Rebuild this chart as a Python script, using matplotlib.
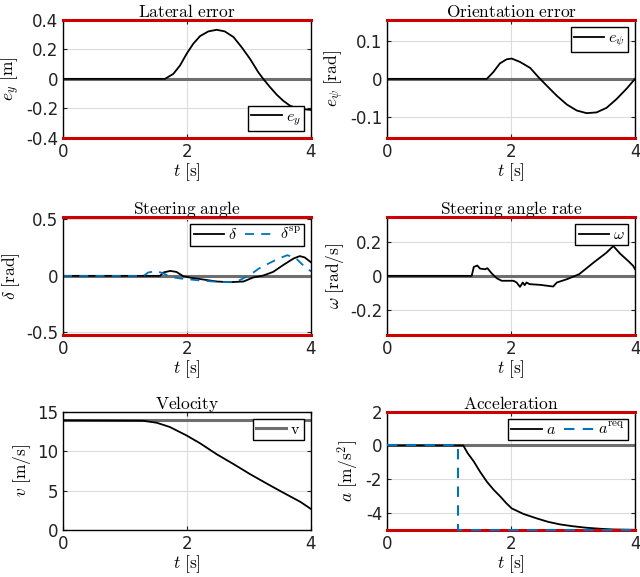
import numpy as np
import matplotlib
matplotlib.use('Agg')
import matplotlib.pyplot as plt

plt.rcParams['mathtext.fontset'] = 'cm'
plt.rcParams['font.family'] = ['DejaVu Sans']

RED = '#cc0000'
GRAY = '#6e6e6e'
BLUE = '#0072bd'

# lateral error
t_ey = [0.0, 1.40, 1.645, 1.78, 1.887, 1.995, 2.10, 2.21, 2.344, 2.48, 2.61, 2.75, 2.88, 3.016,
        3.15, 3.23, 3.34, 3.45, 3.55, 3.66, 3.77, 3.88, 4.0]
ey = [0.0, 0.0, 0.0, 0.034, 0.09, 0.17, 0.237, 0.289, 0.321, 0.332, 0.321, 0.283, 0.215, 0.136,
      0.045, 0.0, -0.056, -0.108, -0.147, -0.181, -0.199, -0.205, -0.21]
ey_lim = 0.4

# orientation error
t_epsi = [0.0, 1.61, 1.715, 1.82, 1.93, 2.01, 2.145, 2.31, 2.44, 2.576, 2.74, 2.90, 3.06, 3.22,
          3.38, 3.54, 3.70, 3.87, 4.0]
epsi = [0.0, 0.0, 0.018, 0.041, 0.052, 0.054, 0.045, 0.029, 0.005, -0.018, -0.045, -0.068, -0.084,
        -0.091, -0.089, -0.077, -0.054, -0.025, 0.0]
epsi_lim = 0.157

# steering angle
t_delta = [0.0, 1.565, 1.62, 1.73, 1.83, 1.94, 2.075, 2.26, 2.48, 2.69, 2.91, 3.07, 3.23, 3.39,
           3.55, 3.72, 3.82, 3.90, 4.0]
delta = [0.0, 0.0, 0.03, 0.044, 0.035, -0.003, -0.018, -0.032, -0.05, -0.056, -0.05, -0.014, 0.003,
         0.035, 0.095, 0.154, 0.175, 0.163, 0.12]
t_delta_sp = [0.0, 1.30, 1.375, 1.51, 1.62, 1.73, 1.89, 2.16, 2.42, 2.69, 2.85, 3.01, 3.16, 3.32,
              3.48, 3.62, 3.76, 3.90, 4.0]
delta_sp = [0.0, 0.0, 0.03, 0.042, 0.022, -0.009, -0.023, -0.038, -0.05, -0.056, -0.038, 0.006,
            0.065, 0.11, 0.154, 0.183, 0.154, 0.08, 0.04]
delta_lim = 0.5236

# steering angle rate
t_omega = [0.0, 1.366, 1.40, 1.457, 1.50, 1.58, 1.62, 1.69, 1.77, 1.85, 2.04, 2.09, 2.145, 2.19,
           2.22, 2.25, 2.30, 2.47, 2.68, 2.74, 2.90, 3.10, 3.33, 3.54, 3.65, 3.76, 3.89, 3.97, 4.0]
omega = [0.0, 0.0, 0.053, 0.061, 0.043, 0.039, 0.045, 0.014, -0.014, -0.029, -0.029, -0.039, -0.065,
         -0.039, -0.055, -0.039, -0.049, -0.053, -0.063, -0.039, -0.02, 0.01, 0.078, 0.137, 0.176,
         0.131, 0.088, 0.059, 0.04]
omega_lim = 0.349

# velocity
t_v = [0.0, 1.29, 1.51, 1.72, 1.99, 2.21, 2.48, 2.75, 3.02, 3.29, 3.56, 3.83, 4.0]
v = [13.9, 13.85, 13.6, 13.07, 12.0, 11.0, 9.6, 8.36, 7.07, 5.87, 4.7, 3.56, 2.66]
v_ref = 13.9

# acceleration
t_a = [0.0, 1.23, 1.3, 1.4, 1.5, 1.61, 1.72, 1.83, 1.92, 2.01, 2.2, 2.42, 2.6, 2.79, 3.0, 3.22,
       3.45, 3.65, 4.0]
a = [0.0, 0.0, -0.45, -0.95, -1.55, -2.14, -2.62, -3.03, -3.4, -3.72, -4.05, -4.32, -4.52, -4.67,
     -4.78, -4.87, -4.93, -4.97, -4.99]
t_areq = [0.0, 1.15, 1.15, 4.0]
a_req = [0.0, 0.0, -5.0, -5.0]
a_min, a_max = -5.0, 2.0

fig = plt.figure(figsize=(6.4, 5.77), dpi=100)
lefts = [0.0984, 0.6047]
bottoms = [0.7608, 0.4194, 0.0815]
w, h = 0.3875, 0.205
FS = 12.5


def setup(ax, title, ylabel, ylim, yticks, yticklabels):
    ax.set_xlim(0, 4)
    ax.set_ylim(*ylim)
    ax.set_xticks([0, 2, 4])
    ax.set_yticks(yticks)
    ax.set_yticklabels(yticklabels)
    ax.grid(True, color='#dcdcdc', linewidth=0.8)
    ax.set_axisbelow(True)
    ax.tick_params(labelsize=12, direction='in', length=3, width=0.8,
                   top=True, right=True, colors='#222222')
    ax.set_title(title, fontsize=FS, pad=2)
    ax.set_ylabel(ylabel, fontsize=FS, labelpad=3)
    ax.set_xlabel(r'$t\ \mathrm{[s]}$', fontsize=FS, labelpad=0)
    for s in ax.spines.values():
        s.set_linewidth(1.0)


def bounds(ax, lo, hi):
    ax.axhline(hi, color=RED, linewidth=2.2, zorder=3, clip_on=False)
    ax.axhline(lo, color=RED, linewidth=2.2, zorder=3, clip_on=False)


def legend(ax, loc):
    lg = ax.legend(loc=loc, fontsize=11.5, fancybox=False, framealpha=1, edgecolor='black',
                   handlelength=1.9, borderpad=0.2, handletextpad=0.25, ncol=2,
                   columnspacing=0.5, borderaxespad=0.45)
    lg.get_frame().set_linewidth(1.0)
    lg.set_zorder(5)


# lateral error
ax = fig.add_axes([lefts[0], bottoms[0], w, h])
setup(ax, r'$\mathrm{Lateral\ error}$', r'$e_y\ \mathrm{[m]}$', (-ey_lim, ey_lim),
      [-0.4, -0.2, 0, 0.2, 0.4], ['-0.4', '-0.2', '0', '0.2', '0.4'])
ax.axhline(0, color=GRAY, linewidth=2.2, zorder=1.2)
bounds(ax, -ey_lim, ey_lim)
ax.plot(t_ey, ey, color='black', linewidth=1.3, label=r'$e_y$')
legend(ax, 'lower right')

# orientation error
ax = fig.add_axes([lefts[1], bottoms[0], w, h])
setup(ax, r'$\mathrm{Orientation\ error}$', r'$e_\psi\ \mathrm{[rad]}$', (-epsi_lim, epsi_lim),
      [-0.1, 0, 0.1], ['-0.1', '0', '0.1'])
ax.axhline(0, color=GRAY, linewidth=2.2, zorder=1.2)
bounds(ax, -epsi_lim, epsi_lim)
ax.plot(t_epsi, epsi, color='black', linewidth=1.3, label=r'$e_\psi$')
legend(ax, 'upper right')

# steering angle
ax = fig.add_axes([lefts[0], bottoms[1], w, h])
setup(ax, r'$\mathrm{Steering\ angle}$', r'$\delta\ \mathrm{[rad]}$', (-delta_lim, delta_lim),
      [-0.5, 0, 0.5], ['-0.5', '0', '0.5'])
ax.axhline(0, color=GRAY, linewidth=2.2, zorder=1.2)
bounds(ax, -delta_lim, delta_lim)
ax.plot(t_delta, delta, color='black', linewidth=1.3, label=r'$\delta$')
ax.plot(t_delta_sp, delta_sp, color=BLUE, linewidth=1.3, linestyle=(0, (5, 4)),
        label=r'$\delta^{\mathrm{sp}}$')
legend(ax, 'upper right')

# steering angle rate
ax = fig.add_axes([lefts[1], bottoms[1], w, h])
setup(ax, r'$\mathrm{Steering\ angle\ rate}$', r'$\omega\ \mathrm{[rad/s]}$', (-omega_lim, omega_lim),
      [-0.2, 0, 0.2], ['-0.2', '0', '0.2'])
ax.axhline(0, color=GRAY, linewidth=2.2, zorder=1.2)
bounds(ax, -omega_lim, omega_lim)
ax.plot(t_omega, omega, color='black', linewidth=1.3, label=r'$\omega$')
legend(ax, 'upper right')

# velocity
ax = fig.add_axes([lefts[0], bottoms[2], w, h])
setup(ax, r'$\mathrm{Velocity}$', r'$v\ \mathrm{[m/s]}$', (0, 15),
      [0, 5, 10, 15], ['0', '5', '10', '15'])
ax.axhline(v_ref, color=GRAY, linewidth=2.2, zorder=1.2, label=r'$\mathrm{v}$')
ax.plot(t_v, v, color='black', linewidth=1.3)
legend(ax, 'upper right')

# acceleration
ax = fig.add_axes([lefts[1], bottoms[2], w, h])
setup(ax, r'$\mathrm{Acceleration}$', r'$a\ \mathrm{[m/s^2]}$', (a_min, a_max),
      [-4, -2, 0, 2], ['-4', '-2', '0', '2'])
ax.axhline(0, color=GRAY, linewidth=2.2, zorder=1.2)
bounds(ax, a_min, a_max)
ax.plot(t_a, a, color='black', linewidth=1.3, label=r'$a$')
ax.plot(t_areq, a_req, color=BLUE, linewidth=1.5, linestyle=(0, (5, 4)), zorder=4,
        clip_on=False, label=r'$a^{\mathrm{req}}$')
legend(ax, 'upper right')

fig.savefig('out.png', dpi=100)
